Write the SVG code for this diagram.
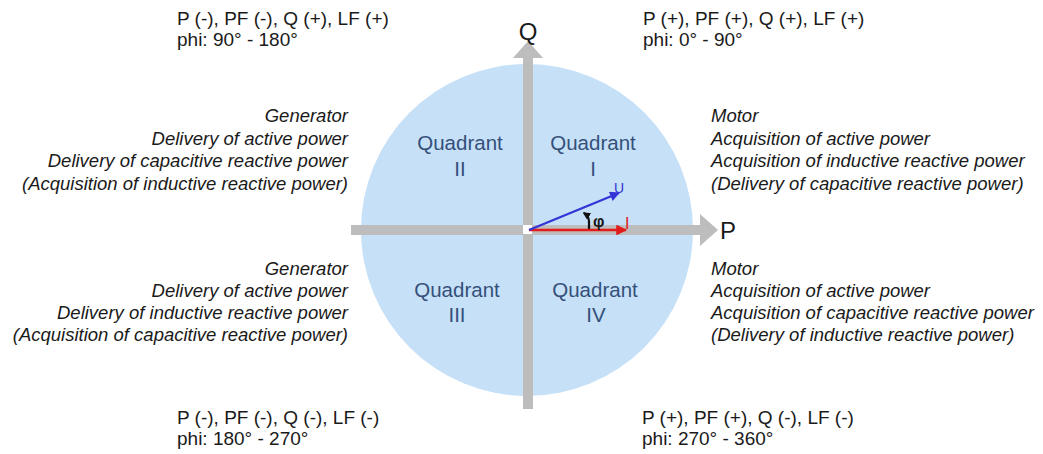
<svg xmlns="http://www.w3.org/2000/svg" width="1043" height="454" viewBox="0 0 1043 454">
<defs>
<style>
text{font-family:"Liberation Sans",Arial,sans-serif;fill:#1a1a1a}
.hdr{font-size:19px}
.it{font-size:18.5px;font-style:italic}
.quad{font-size:20.5px;fill:#34507a;text-anchor:middle}
.ax{fill:#bdbdbd}
.end{text-anchor:end}
</style>
<marker id="ahRed" viewBox="0 0 10 10" refX="9" refY="5" markerWidth="5" markerHeight="4.5" orient="auto" markerUnits="strokeWidth"><path d="M0,0 L10,5 L0,10 z" fill="#e21b1b"/></marker>
<marker id="ahBlue" viewBox="0 0 10 10" refX="9" refY="5" markerWidth="5" markerHeight="4.5" orient="auto" markerUnits="strokeWidth"><path d="M0,0 L10,5 L0,10 z" fill="#3434d6"/></marker>
<marker id="ahBlack" viewBox="0 0 10 10" refX="8" refY="5" markerWidth="3.5" markerHeight="3.5" orient="auto" markerUnits="strokeWidth"><path d="M0,0 L10,5 L0,10 z" fill="#111"/></marker>
</defs>
<rect width="1043" height="454" fill="#ffffff"/>
<g id="circle"><circle cx="527" cy="230" r="166" fill="#c6e0f8"/></g>
<g id="axes">
<rect class="ax" x="351" y="225" width="351" height="10"/>
<path class="ax" d="M700,214 L718,230 L700,246 z"/>
<rect class="ax" x="523" y="57" width="10" height="352"/>
<path class="ax" d="M513,58 L528,41 L543,58 z"/>
<rect x="523" y="225" width="9" height="9" fill="#ffffff"/>
<text x="528" y="40" font-size="24" text-anchor="middle">Q</text>
<text x="720" y="239" font-size="24">P</text>
</g>
<g id="q1"><text class="quad" x="593" y="150">Quadrant</text><text class="quad" x="593" y="176">I</text></g>
<g id="q2"><text class="quad" x="460" y="150">Quadrant</text><text class="quad" x="460" y="176">II</text></g>
<g id="q3"><text class="quad" x="457" y="297">Quadrant</text><text class="quad" x="457" y="322">III</text></g>
<g id="q4"><text class="quad" x="595" y="297">Quadrant</text><text class="quad" x="596" y="322">IV</text></g>
<g id="connectors">
<line x1="529" y1="230" x2="626" y2="230" stroke="#e21b1b" stroke-width="2.4" marker-end="url(#ahRed)"/>
<line x1="529" y1="230" x2="619" y2="193" stroke="#3434d6" stroke-width="2.2" marker-end="url(#ahBlue)"/>
<path d="M589,229 L589,221 Q588.5,216 584,213" fill="none" stroke="#111" stroke-width="2.2" marker-end="url(#ahBlack)"/>
</g>
<g id="vectorLabels">
<text x="625" y="229" style="fill:#e21b1b;font-size:16px">I</text>
<text x="614" y="193" style="fill:#3434d6;font-size:14px">U</text>
<text x="593" y="227" style="font-size:16px;font-weight:bold">φ</text>
</g>
<g id="tl">
<text class="hdr" x="177" y="25">P (-), PF (-), Q (+), LF (+)</text>
<text class="hdr" x="177" y="46">phi: 90° - 180°</text>
</g>
<g id="tr">
<text class="hdr" x="643" y="25">P (+), PF (+), Q (+), LF (+)</text>
<text class="hdr" x="643" y="46">phi: 0° - 90°</text>
</g>
<g id="bl">
<text class="hdr" x="177" y="424">P (-), PF (-), Q (-), LF (-)</text>
<text class="hdr" x="177" y="445">phi: 180° - 270°</text>
</g>
<g id="br">
<text class="hdr" x="642" y="424">P (+), PF (+), Q (-), LF (-)</text>
<text class="hdr" x="642" y="445">phi: 270° - 360°</text>
</g>
<g id="descTL">
<text class="it end" x="348" y="122">Generator</text>
<text class="it end" x="348" y="145">Delivery of active power</text>
<text class="it end" x="348" y="167">Delivery of capacitive reactive power</text>
<text class="it end" x="348" y="190">(Acquisition of inductive reactive power)</text>
</g>
<g id="descTR">
<text class="it" x="711" y="122">Motor</text>
<text class="it" x="711" y="145">Acquisition of active power</text>
<text class="it" x="711" y="167">Acquisition of inductive reactive power</text>
<text class="it" x="711" y="190">(Delivery of capacitive reactive power)</text>
</g>
<g id="descBL">
<text class="it end" x="348" y="275">Generator</text>
<text class="it end" x="348" y="297">Delivery of active power</text>
<text class="it end" x="348" y="319">Delivery of inductive reactive power</text>
<text class="it end" x="348" y="341">(Acquisition of capacitive reactive power)</text>
</g>
<g id="descBR">
<text class="it" x="711" y="275">Motor</text>
<text class="it" x="711" y="297">Acquisition of active power</text>
<text class="it" x="711" y="319">Acquisition of capacitive reactive power</text>
<text class="it" x="711" y="341">(Delivery of inductive reactive power)</text>
</g>
</svg>
